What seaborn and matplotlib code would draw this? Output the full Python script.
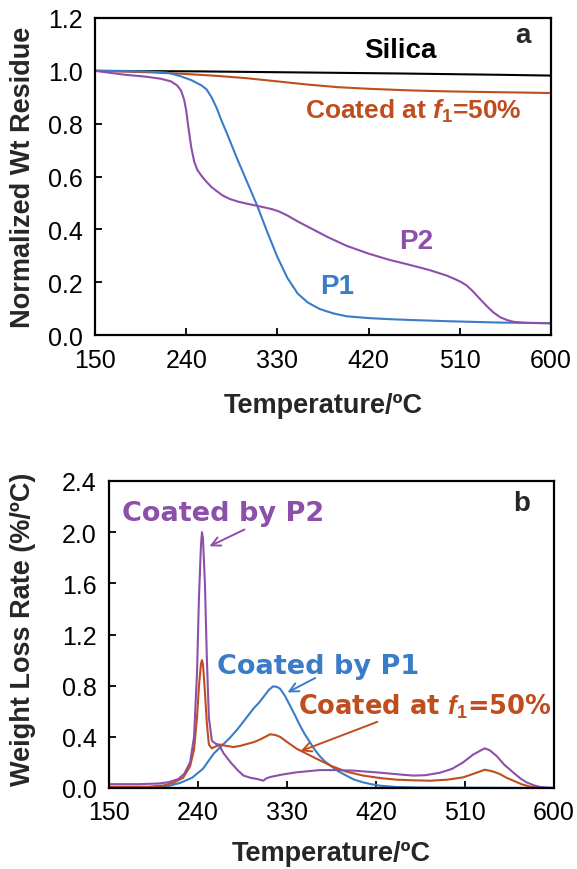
import matplotlib
matplotlib.use("Agg")
import matplotlib.pyplot as plt
import seaborn as sns
import pandas as pd

# ---------------- data: panel a (TGA) ----------------
T_silica = [150, 250, 350, 450, 550, 600]
w_silica = [1.0, 0.998, 0.994, 0.99, 0.985, 0.982]

T_coat50 = [150, 200, 240, 270, 300, 330, 360, 390, 420, 460, 500, 550, 600]
w_coat50 = [1.0, 0.995, 0.988, 0.981, 0.972, 0.960, 0.948, 0.938, 0.932, 0.926, 0.922, 0.919, 0.916]

T_p1 = [150, 200, 222, 234, 245, 255, 260, 265, 270, 275, 280, 290, 300, 310, 320, 330, 340,
        350, 360, 372, 385, 398, 420, 440, 460, 500, 550, 600]
w_p1 = [1.0, 0.998, 0.993, 0.98, 0.965, 0.945, 0.93, 0.90, 0.86, 0.81, 0.765, 0.67, 0.58,
        0.49, 0.39, 0.295, 0.215, 0.157, 0.123, 0.098, 0.082, 0.071, 0.064, 0.06, 0.057,
        0.052, 0.047, 0.045]

T_p2 = [150, 180, 200, 215, 225, 231, 235, 238, 240, 242, 245, 248, 251, 255, 260, 265, 270,
        276, 283, 291, 300, 315, 325, 332, 340, 350, 365, 380, 398, 420, 440, 460, 480, 497,
        505, 511, 517, 523, 530, 537, 543, 550, 557, 563, 575, 600]
w_p2 = [1.0, 0.985, 0.978, 0.97, 0.96, 0.945, 0.925, 0.89, 0.85, 0.79, 0.71, 0.655, 0.625,
        0.603, 0.58, 0.56, 0.545, 0.528, 0.515, 0.505, 0.497, 0.485, 0.476, 0.467, 0.452,
        0.43, 0.40, 0.37, 0.338, 0.308, 0.285, 0.266, 0.246, 0.225, 0.212, 0.201, 0.187,
        0.165, 0.136, 0.108, 0.086, 0.067, 0.056, 0.05, 0.046, 0.044]

# ---------------- data: panel b (DTG) ----------------
Td_p2 = [150, 180, 200, 210, 220, 226, 232, 236, 239, 241, 243, 244, 245, 247, 249, 251, 254,
         258, 261, 266, 273, 280, 286, 293, 300, 306, 309, 313, 325, 340, 363, 380, 397, 424,
         445, 458, 470, 485, 497, 508, 518, 525, 530, 535, 542, 550, 559, 566, 572, 580, 586, 600]
r_p2 = [0.03, 0.03, 0.035, 0.045, 0.07, 0.11, 0.2, 0.4, 0.9, 1.5, 1.9, 2.0, 1.95, 1.6, 1.0,
        0.55, 0.37, 0.345, 0.34, 0.27, 0.20, 0.14, 0.097, 0.08, 0.07, 0.057, 0.075, 0.086,
        0.105, 0.123, 0.14, 0.14, 0.136, 0.12, 0.105, 0.097, 0.1, 0.12, 0.15, 0.2, 0.26, 0.29,
        0.31, 0.295, 0.25, 0.18, 0.12, 0.075, 0.045, 0.02, 0.008, 0.0]

Td_c50 = [150, 190, 205, 215, 225, 232, 236, 239, 241, 243, 244, 245, 247, 249, 251, 254, 258,
          263, 268, 276, 283, 290, 297, 303, 308, 313, 318, 323, 330, 340, 357, 374, 390, 407,
          425, 441, 458, 475, 492, 508, 520, 530, 538, 545, 552, 559, 567, 576, 590, 600]
r_c50 = [0.01, 0.01, 0.02, 0.04, 0.08, 0.17, 0.3, 0.55, 0.8, 0.97, 1.0, 0.97, 0.75, 0.5, 0.34,
         0.31, 0.325, 0.34, 0.33, 0.32, 0.33, 0.345, 0.36, 0.38, 0.40, 0.42, 0.415, 0.40, 0.36,
         0.306, 0.24, 0.175, 0.128, 0.097, 0.077, 0.065, 0.06, 0.057, 0.065, 0.083, 0.115,
         0.143, 0.13, 0.11, 0.08, 0.057, 0.03, 0.01, 0.0, 0.0]

Td_p1 = [150, 190, 210, 222, 234, 245, 256, 264, 272, 280, 289, 296, 302, 307, 312, 316, 320,
         323, 328, 333, 338, 343, 348, 353, 358, 363, 368, 374, 382, 390, 398, 407, 415, 424,
         440, 460, 520, 600]
r_p1 = [0.0, 0.005, 0.015, 0.04, 0.08, 0.15, 0.27, 0.33, 0.39, 0.46, 0.55, 0.62, 0.67, 0.72,
        0.77, 0.795, 0.79, 0.776, 0.72, 0.645, 0.57, 0.49, 0.42, 0.36, 0.30, 0.25, 0.21, 0.175,
        0.13, 0.097, 0.065, 0.044, 0.03, 0.018, 0.008, 0.004, 0.002, 0.0]

x_ticks = [150, 240, 330, 420, 510, 600]
y_ticks_a = [0.0, 0.2, 0.4, 0.6, 0.8, 1.0, 1.2]
y_ticks_b = [0.0, 0.4, 0.8, 1.2, 1.6, 2.0, 2.4]

# ---------------- style ----------------
sns.set_style("white")
plt.rcParams["font.family"] = ["Liberation Sans", "DejaVu Sans"]
plt.rcParams["mathtext.fontset"] = "custom"
plt.rcParams["mathtext.it"] = "Liberation Sans:italic:bold"
plt.rcParams["mathtext.rm"] = "Liberation Sans:bold"
plt.rcParams["mathtext.bf"] = "Liberation Sans:bold"
plt.rcParams["lines.solid_joinstyle"] = "round"

BLUE = "#3A7CC8"
ORANGE = "#BF4E1E"
PURPLE = "#8C50AA"
LW = 1.5

fig = plt.figure(figsize=(5.77, 8.7), dpi=100)
W, H = 577.0, 870.0
ax1 = fig.add_axes([95 / W, 1 - 336 / H, 456 / W, 317 / H])
ax2 = fig.add_axes([109 / W, 1 - 789 / H, 445 / W, 307 / H])

def line(ax, x, y, color):
    df = pd.DataFrame({"T": x, "v": y})
    sns.lineplot(data=df, x="T", y="v", ax=ax, color=color, lw=LW, sort=False, estimator=None)

line(ax1, T_silica, w_silica, "black")
line(ax1, T_coat50, w_coat50, ORANGE)
line(ax1, T_p1, w_p1, BLUE)
line(ax1, T_p2, w_p2, PURPLE)

line(ax2, Td_p1, r_p1, BLUE)
line(ax2, Td_c50, r_c50, ORANGE)
line(ax2, Td_p2, r_p2, PURPLE)

for ax, yt, ylab, lp in [(ax1, y_ticks_a, "Normalized Wt Residue", 15),
                         (ax2, y_ticks_b, "Weight Loss Rate (%/ºC)", 11)]:
    ax.set_xlim(150, 600)
    ax.set_ylim(yt[0], yt[-1])
    ax.set_xticks(x_ticks)
    ax.set_xticklabels([str(t) for t in x_ticks])
    ax.set_yticks(yt)
    ax.set_yticklabels(["%.1f" % v for v in yt])
    ax.tick_params(direction="in", length=5, width=1.3, labelsize=18, pad=9,
                   colors="black", bottom=True, left=True, top=False, right=False)
    for s in ax.spines.values():
        s.set_linewidth(1.6)
        s.set_color("black")
    ax.set_xlabel("Temperature/ºC", fontsize=19.5, fontweight="bold", labelpad=lp)
    ax.set_ylabel(ylab, fontsize=19.5, fontweight="bold")

ax1.yaxis.set_label_coords(-0.13, 0.5)
ax2.yaxis.set_label_coords(-0.165, 0.52)

# ---------------- annotations panel a ----------------
ax1.text(451, 1.08, "Silica", fontsize=20, fontweight="bold", ha="center", va="center",
         color="black")
ax1.text(572, 1.136, "a", fontsize=20, fontweight="bold", ha="center", va="center")
ax1.text(357, 0.85, r"Coated at $\mathit{f}_{\mathrm{1}}$=50%", fontsize=19, fontweight="bold",
         ha="left", va="center", color=ORANGE)
ax1.text(467, 0.356, "P2", fontsize=20, fontweight="bold", ha="center", va="center", color=PURPLE)
ax1.text(389, 0.185, "P1", fontsize=20, fontweight="bold", ha="center", va="center", color=BLUE)

# ---------------- annotations panel b ----------------
afont = dict(fontsize=19.5, fontweight="bold", family=["DejaVu Sans"])
ax2.text(567, 2.23, "b", fontsize=20, fontweight="bold", ha="center", va="center")
ax2.text(163, 2.15, "Coated by P2", ha="left", va="center", color=PURPLE, **afont)
ax2.annotate("", xy=(249, 1.88), xytext=(289.5, 2.03),
             arrowprops=dict(arrowstyle="->", color=PURPLE, lw=1.4, mutation_scale=16))
ax2.text(259, 0.957, "Coated by P1", ha="left", va="center", color=BLUE, **afont)
ax2.annotate("", xy=(328, 0.737), xytext=(361, 0.87),
             arrowprops=dict(arrowstyle="->", color=BLUE, lw=1.4, mutation_scale=16))
ax2.text(341, 0.643, r"Coated at $\mathit{f}_{\mathrm{1}}$=50%", ha="left", va="center",
         color=ORANGE, fontsize=18.5, fontweight="bold", family=["DejaVu Sans"])
ax2.annotate("", xy=(341, 0.28), xytext=(424, 0.525),
             arrowprops=dict(arrowstyle="->", color=ORANGE, lw=1.4, mutation_scale=16))

fig.savefig("out.png", dpi=100)
